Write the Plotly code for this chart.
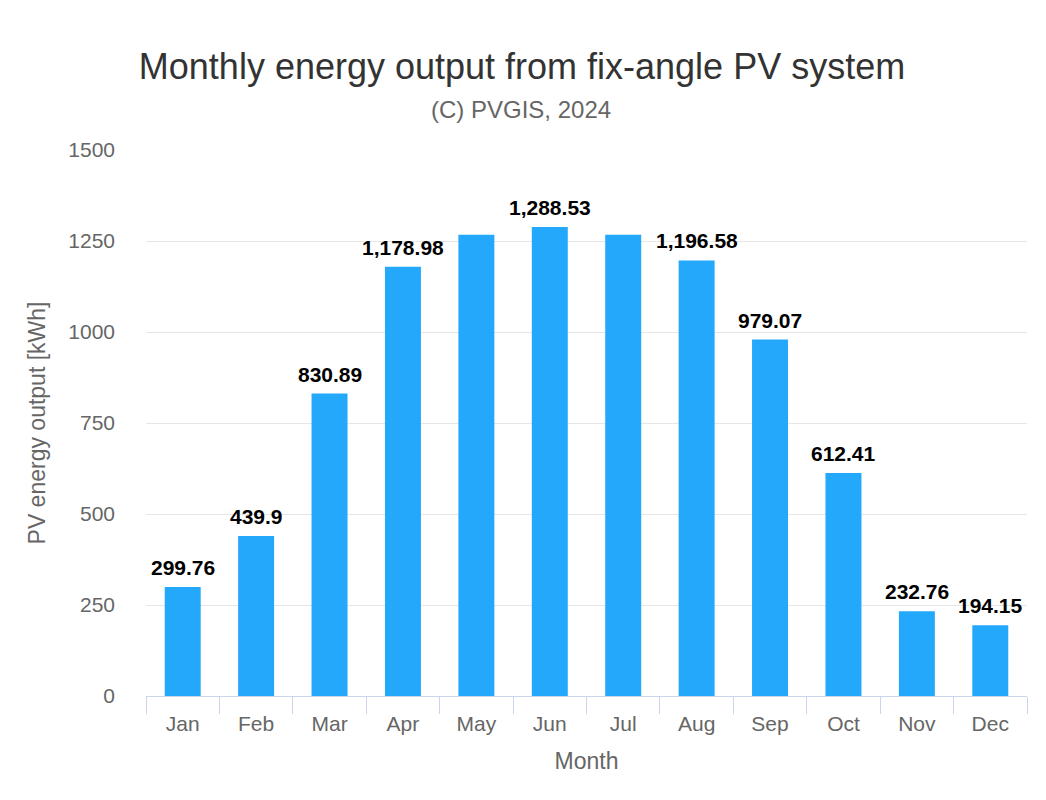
import plotly.graph_objects as go

months = ["Jan", "Feb", "Mar", "Apr", "May", "Jun", "Jul", "Aug", "Sep", "Oct", "Nov", "Dec"]
energy_kwh = [299.76, 439.9, 830.89, 1178.98, 1267.5, 1288.53, 1267.0, 1196.58, 979.07, 612.41, 232.76, 194.15]
hidden_labels = ["May", "Jul"]  # labels hidden in the original (overlap)
y_ticks = [0, 250, 500, 750, 1000, 1250, 1500]

BAR = "#24a8fb"
GREY = "#666666"

# page body has an 8px margin, so the figure is 16px smaller than the window
W, H = 1030, 784
L, R, T, B = 138, 11, 142, 96
PH = H - T - B

fig = go.Figure()
fig.add_trace(go.Bar(
    x=months, y=energy_kwh, marker=dict(color=BAR, line=dict(width=0)),
    hoverinfo="x+y",
))

for m, v in zip(months, energy_kwh):
    if m in hidden_labels:
        continue
    fig.add_annotation(
        x=m, y=v, text=f"{v:,}", showarrow=False, yanchor="bottom",
        yshift=6, font=dict(family="Liberation Sans, Arial", size=21, color="#000000", weight="bold"),
    )

fig.add_annotation(
    text="(C) PVGIS, 2024", xref="paper", yref="paper",
    x=(513 - L) / (W - L - R), y=1 + (T - 101) / PH,
    xanchor="center", yanchor="middle", showarrow=False,
    font=dict(size=24, color=GREY),
)

fig.update_layout(
    width=W, height=H,
    paper_bgcolor="white", plot_bgcolor="white",
    margin=dict(l=L, r=R, t=T, b=B),
    bargap=0.51,
    showlegend=False,
    font=dict(family="Liberation Sans, Arial", color=GREY),
    title=dict(
        text="Monthly energy output from fix-angle PV system",
        x=(514) / W, xanchor="center", y=1 - 58 / H, yanchor="middle",
        font=dict(size=36, color="#333333"),
    ),
)

fig.update_xaxes(
    type="category", showgrid=False, showline=True, linecolor="#ccd6eb", linewidth=1,
    ticks="outside", tickson="boundaries", ticklen=17, tickcolor="#ccd6eb",
    tickfont=dict(size=21, color=GREY), ticklabelstandoff=9,
    title=dict(text="Month", font=dict(size=23, color=GREY), standoff=18),
)
fig.update_yaxes(
    range=[0, 1500], tickvals=y_ticks, showgrid=True, gridcolor="#e6e6e6", gridwidth=1,
    zeroline=False, showline=False, ticks="", ticklabelstandoff=30,
    tickfont=dict(size=21, color=GREY),
    title=dict(text="PV energy output [kWh]", font=dict(size=23, color=GREY), standoff=16),
)

fig.write_html("out.html")
